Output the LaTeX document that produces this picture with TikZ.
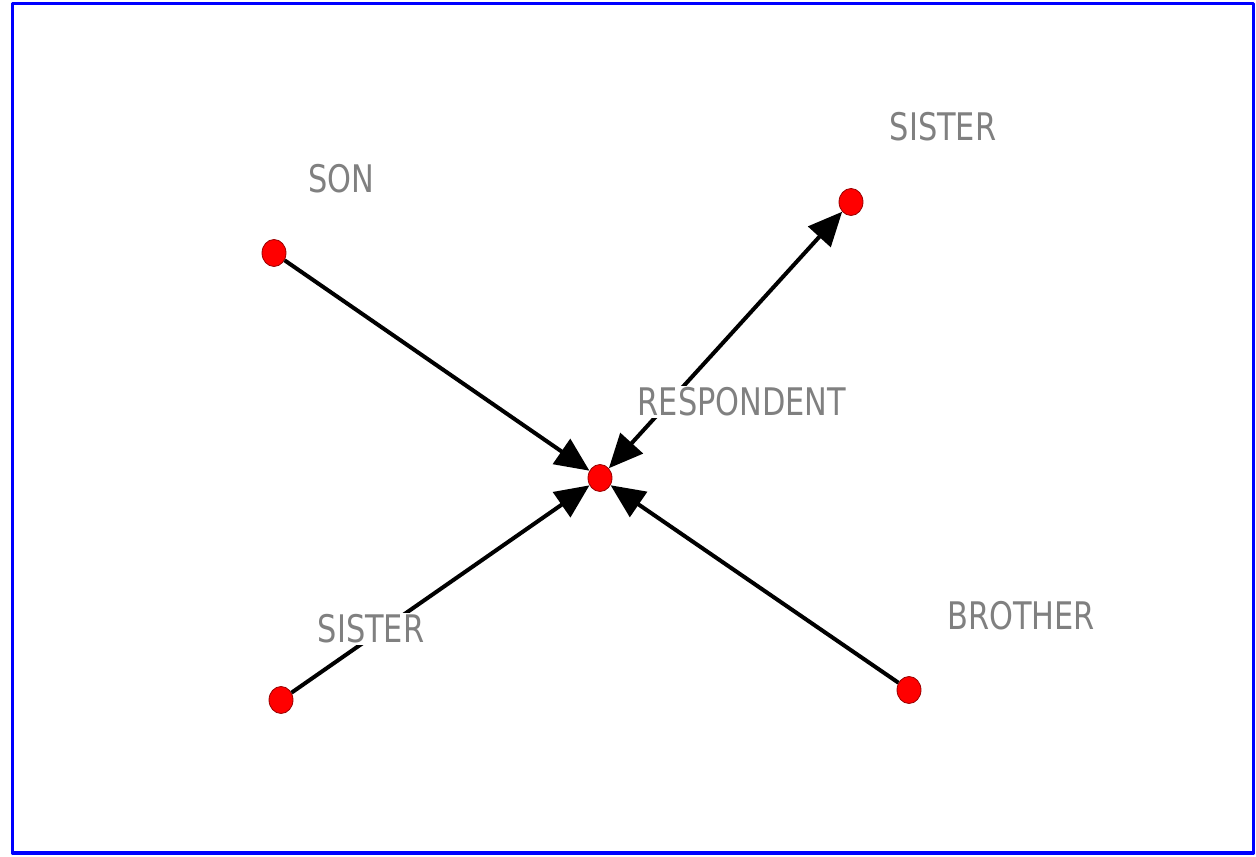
\documentclass[tikz,border=0pt]{standalone}
\usepackage{fontspec}
\newfontfamily\labfont[FakeStretch=0.8]{DejaVu Sans}
\usetikzlibrary{arrows.meta,shapes.geometric}
\definecolor{dotred}{RGB}{255,0,0}
\definecolor{labgray}{RGB}{128,128,128}
\begin{document}
\begin{tikzpicture}[x=0.5pt, y=0.5pt, line join=round, >={Triangle[length=17pt,width=15pt]},
 dot/.style={ellipse, draw=red!60!black, line width=0.4pt, fill=dotred, minimum width=12pt, minimum height=13.5pt, inner sep=0pt},
 tie/.style={line width=2pt},
 lab/.style={text=labgray, fill=white, inner sep=1pt, font=\labfont\fontsize{19}{19}\selectfont}]
 \useasboundingbox (0,0) rectangle (1256,856);
 \draw[blue, line width=1.75pt] (12.5,3) rectangle (1253.5,2.5+850);
 % actors
 \node[dot] (resp) at (600,378) {};
 \node[dot] (son) at (274,603) {};
 \node[dot] (sisterA) at (851,654) {};
 \node[dot] (sisterB) at (281,156) {};
 \node[dot] (brother) at (909,166) {};
 % ties
 \draw[tie,->] (son) -- (resp);
 \draw[tie,<->] (resp) -- (sisterA);
 \draw[tie,->] (sisterB) -- (resp);
 \draw[tie,->] (brother) -- (resp);
 % names
 \node[lab] (sonlab) at (341,677) {SON};
 \node[lab] (sisterAlab) at (943,729) {SISTER};
 \node[lab] (resplab) at (742,454) {RESPONDENT};
 \node[lab] (sisterBlab) at (371,227) {SISTER};
 \node[lab] (brotherlab) at (1021,240) {BROTHER};
\end{tikzpicture}
\end{document}
